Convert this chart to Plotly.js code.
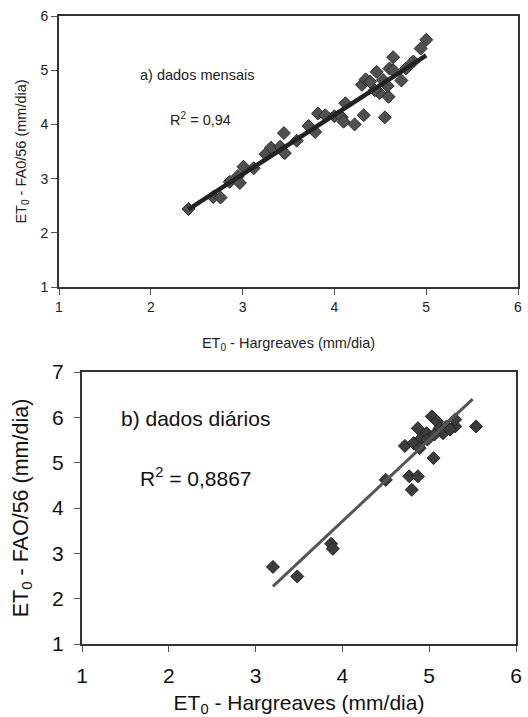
<!DOCTYPE html>
<html>
<head>
<meta charset="utf-8">
<script src="https://cdn.plot.ly/plotly-3.0.1.min.js"></script>
<style>html,body{margin:0;padding:0;background:#fff;}#chart{width:528px;height:717px;}</style>
</head>
<body>
<div id="chart"></div>
<script>
// a) dados mensais
var monthlyX = [2.41, 2.68, 2.76, 2.86, 2.95, 2.97, 3.01, 3.12, 3.25, 3.31, 3.41, 3.45, 3.46, 3.59, 3.72, 3.79, 3.82, 3.90, 4.00, 4.08, 4.10, 4.12, 4.22, 4.32, 4.30, 4.34, 4.39, 4.46, 4.49, 4.44, 4.53, 4.55, 4.59, 4.58, 4.60, 4.64, 4.64, 4.73, 4.78, 4.86, 4.94, 5.00];
var monthlyY = [2.44, 2.66, 2.65, 2.94, 3.05, 2.92, 3.22, 3.19, 3.45, 3.57, 3.59, 3.84, 3.47, 3.70, 3.97, 3.86, 4.20, 4.17, 4.15, 4.13, 4.05, 4.39, 4.00, 4.17, 4.73, 4.83, 4.79, 4.97, 4.58, 4.63, 4.82, 4.13, 4.51, 4.71, 5.03, 5.24, 5.00, 4.81, 5.03, 5.16, 5.40, 5.56];
var monthlyFitCoef = [-0.213, 1.097];   // intercept, slope
var monthlyFitRange = [2.41, 5.00];

// b) dados diários
var dailyX = [3.20, 3.48, 3.87, 3.89, 4.50, 4.77, 4.87, 4.80, 5.05, 4.72, 4.82, 4.87, 4.91, 4.97, 5.03, 5.09, 5.12, 5.16, 5.20, 5.30, 5.30, 5.54, 4.89, 4.98, 5.06, 5.24];
var dailyY = [2.70, 2.49, 3.21, 3.10, 4.62, 4.70, 4.70, 4.40, 5.10, 5.37, 5.43, 5.76, 5.54, 5.65, 6.02, 5.91, 5.76, 5.65, 5.80, 5.80, 5.95, 5.80, 5.32, 5.51, 5.62, 5.73];
var dailyFitCoef = [-3.477, 1.796];
var dailyFitRange = [3.20, 5.50];

var xTicks = [1, 2, 3, 4, 5, 6];
var yTicksA = [1, 2, 3, 4, 5, 6];
var yTicksB = [1, 2, 3, 4, 5, 6, 7];

function fitY(coef, xs) { return xs.map(function (x) { return coef[0] + coef[1] * x; }); }

var FONT = 'Liberation Sans, Arial, sans-serif';

var traces = [
  { x: monthlyX, y: monthlyY, xaxis: 'x', yaxis: 'y', mode: 'markers', type: 'scatter',
    marker: { symbol: 'diamond', size: 10, color: '#505050', line: { color: '#2a2a2a', width: 1 } } },
  { x: monthlyFitRange, y: fitY(monthlyFitCoef, monthlyFitRange), xaxis: 'x', yaxis: 'y', mode: 'lines', type: 'scatter',
    line: { color: '#222', width: 4.5 } },
  { x: dailyX, y: dailyY, xaxis: 'x2', yaxis: 'y2', mode: 'markers', type: 'scatter',
    marker: { symbol: 'diamond', size: 10, color: '#3c3c3c', line: { color: '#222', width: 1 } } },
  { x: dailyFitRange, y: fitY(dailyFitCoef, dailyFitRange), xaxis: 'x2', yaxis: 'y2', mode: 'lines', type: 'scatter',
    line: { color: '#555', width: 3 } }
];

var axA = { showgrid: false, zeroline: false, showline: true, mirror: true, linecolor: '#333', linewidth: 2,
  ticks: 'outside', ticklen: 6, tickcolor: '#555', tickwidth: 1, tickfont: { family: FONT, size: 14, color: '#222' } };
var axB = { showgrid: false, zeroline: false, showline: true, mirror: true, linecolor: '#333', linewidth: 2,
  ticks: 'outside', ticklen: 6, tickcolor: '#555', tickwidth: 1, ticklabelstandoff: 6, tickfont: { family: FONT, size: 21, color: '#111' } };

var layout = {
  width: 528, height: 717, showlegend: false,
  margin: { l: 0, r: 0, t: 0, b: 0 },
  paper_bgcolor: '#fff', plot_bgcolor: '#fff',
  xaxis: Object.assign({}, axA, { domain: [59 / 528, 518 / 528], range: [1, 6], tickvals: xTicks, anchor: 'y',
    title: { text: 'ET<sub>0</sub> - Hargreaves (mm/dia)', font: { family: FONT, size: 14.5, color: '#222' }, standoff: 24 } }),
  yaxis: Object.assign({}, axA, { domain: [1 - 287 / 717, 1 - 16 / 717], range: [1, 6], tickvals: yTicksA, anchor: 'x',
    title: { text: 'ET<sub>0</sub> - FA0/56 (mm/dia)', font: { family: FONT, size: 14.5, color: '#222' }, standoff: 10 } }),
  xaxis2: Object.assign({}, axB, { domain: [82 / 528, 516 / 528], range: [1, 6], tickvals: xTicks, anchor: 'y2',
    title: { text: 'ET<sub>0</sub> - Hargreaves (mm/dia)', font: { family: FONT, size: 21, color: '#111' }, standoff: 14 } }),
  yaxis2: Object.assign({}, axB, { domain: [1 - 644 / 717, 1 - 372 / 717], range: [1, 7], tickvals: yTicksB, anchor: 'x2',
    title: { text: 'ET<sub>0</sub> - FAO/56 (mm/dia)', font: { family: FONT, size: 21.5, color: '#111' }, standoff: 18 } }),
  annotations: [
    { xref: 'x', yref: 'y', x: 2.50, y: 4.91, text: 'a) dados mensais', showarrow: false,
      font: { family: FONT, size: 14.5, color: '#222' } },
    { xref: 'x', yref: 'y', x: 2.54, y: 4.10, text: 'R<sup>2</sup> = 0,94', showarrow: false,
      font: { family: FONT, size: 14.5, color: '#222' } },
    { xref: 'x2', yref: 'y2', x: 2.31, y: 5.97, text: 'b) dados diários', showarrow: false,
      font: { family: FONT, size: 21, color: '#111' } },
    { xref: 'x2', yref: 'y2', x: 2.31, y: 4.68, text: 'R<sup>2</sup> = 0,8867', showarrow: false,
      font: { family: FONT, size: 21, color: '#111' } }
  ]
};

Plotly.newPlot('chart', traces, layout, { displayModeBar: false, staticPlot: true });
</script>
</body>
</html>
